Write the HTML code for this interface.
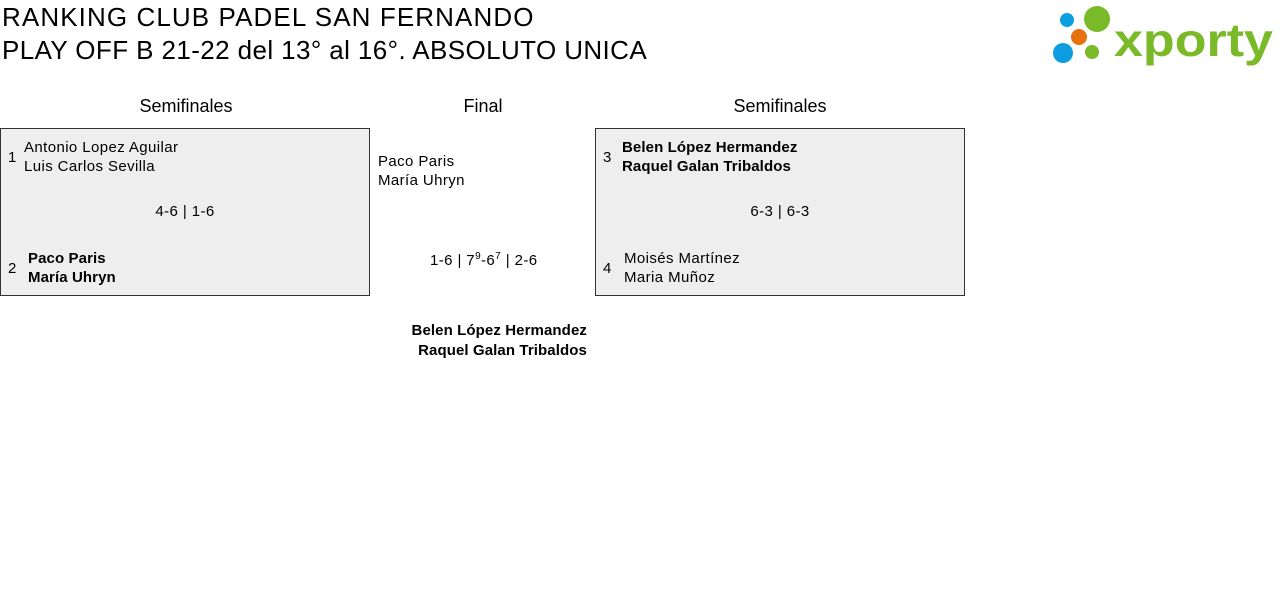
<!DOCTYPE html>
<html><head><meta charset="utf-8"><style>
body{margin:0;width:1280px;height:613px;background:#fff;font-family:"Liberation Sans",sans-serif;color:#000;position:relative;overflow:hidden}
.a{position:absolute;white-space:nowrap}
.t{font-size:26px;left:2px}
.h{font-size:18px;text-align:center}
.box{position:absolute;border:1px solid #333;background:#eee;width:368px;height:166px;top:128px}
.n{font-size:15px;line-height:19px;letter-spacing:0.4px}
.b{font-weight:bold;letter-spacing:0.1px}
</style></head><body>
<div class="a t" style="top:2px;letter-spacing:1.1px">RANKING CLUB PADEL SAN FERNANDO</div>
<div class="a t" style="top:35px;letter-spacing:0.4px">PLAY OFF B 21-22 del 13° al 16°. ABSOLUTO UNICA</div>
<svg class="a" style="left:1040px;top:0" width="240" height="70">
<circle cx="27" cy="20" r="7" fill="#0c9ee0"/>
<circle cx="57" cy="19" r="13" fill="#7ab928"/>
<circle cx="39" cy="37" r="8" fill="#e8710f"/>
<circle cx="23" cy="53" r="10" fill="#0c9ee0"/>
<circle cx="52" cy="52" r="7" fill="#7ab928"/>
<text x="74" y="56" font-family="Liberation Sans" font-weight="bold" font-size="46" fill="#7ab928" textLength="159" lengthAdjust="spacingAndGlyphs">xporty</text>
</svg>
<div class="a h" style="left:86px;width:200px;top:96px">Semifinales</div>
<div class="a h" style="left:433px;width:100px;top:96px">Final</div>
<div class="a h" style="left:680px;width:200px;top:96px">Semifinales</div>
<div class="box" style="left:0"></div>
<div class="a n" style="left:8px;top:148px">1</div>
<div class="a n" style="left:24px;top:138px">Antonio Lopez Aguilar<br>Luis Carlos Sevilla</div>
<div class="a n" style="left:0;width:370px;text-align:center;top:202px">4-6 | 1-6</div>
<div class="a n" style="left:8px;top:259px">2</div>
<div class="a n b" style="left:28px;top:249px">Paco Paris<br>María Uhryn</div>
<div class="a n" style="left:378px;top:152px">Paco Paris<br>María Uhryn</div>
<div class="a n" style="left:430px;top:247px">1-6 | 7<sup style="font-size:10px">9</sup>-6<sup style="font-size:10px">7</sup> | 2-6</div>
<div class="a n b" style="left:380px;width:207px;text-align:right;top:321px;line-height:20px">Belen López Hermandez<br>Raquel Galan Tribaldos</div>
<div class="box" style="left:595px"></div>
<div class="a n" style="left:603px;top:148px">3</div>
<div class="a n b" style="left:622px;top:138px">Belen López Hermandez<br>Raquel Galan Tribaldos</div>
<div class="a n" style="left:595px;width:370px;text-align:center;top:202px">6-3 | 6-3</div>
<div class="a n" style="left:603px;top:259px">4</div>
<div class="a n" style="left:624px;top:249px">Moisés Martínez<br>Maria Muñoz</div>
</body></html>
